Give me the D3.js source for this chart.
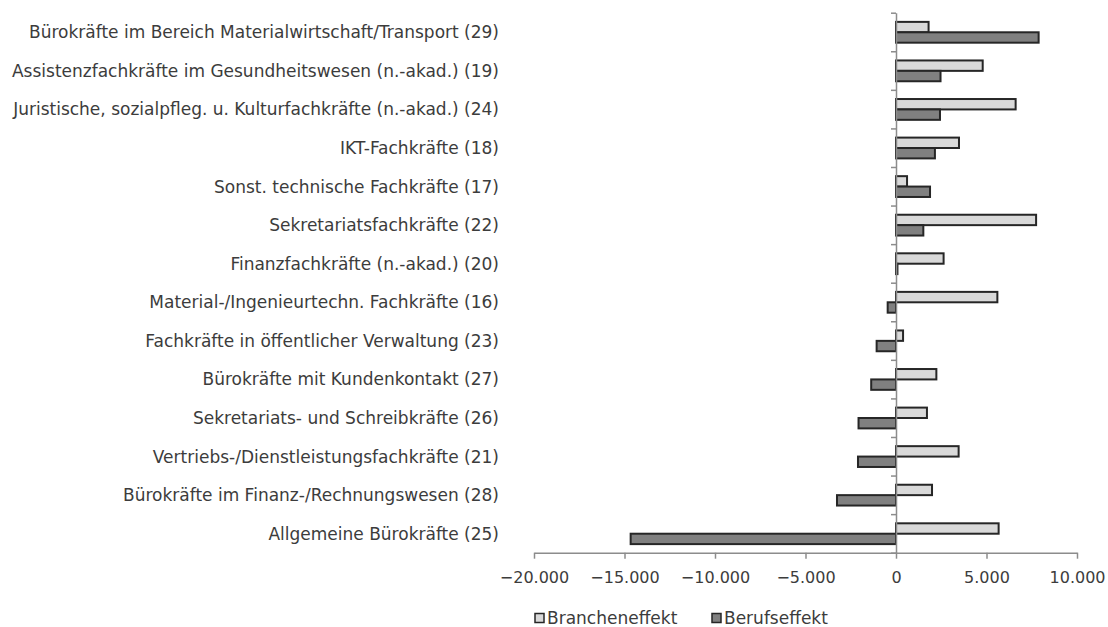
<!DOCTYPE html>
<html>
<head>
<meta charset="utf-8">
<script src="https://cdn.jsdelivr.net/npm/d3@7"></script>
<style>
  html, body { margin: 0; padding: 0; background: #ffffff; }
  svg { display: block; }
  text { font-family: "DejaVu Sans", sans-serif; fill: #3c3c3c; }
</style>
</head>
<body>
<svg id="chart" width="1108" height="627"></svg>
<script>
const categories = [
  "Bürokräfte im Bereich Materialwirtschaft/Transport (29)",
  "Assistenzfachkräfte im Gesundheitswesen (n.-akad.) (19)",
  "Juristische, sozialpfleg. u. Kulturfachkräfte (n.-akad.) (24)",
  "IKT-Fachkräfte (18)",
  "Sonst. technische Fachkräfte (17)",
  "Sekretariatsfachkräfte (22)",
  "Finanzfachkräfte (n.-akad.) (20)",
  "Material-/Ingenieurtechn. Fachkräfte (16)",
  "Fachkräfte in öffentlicher Verwaltung (23)",
  "Bürokräfte mit Kundenkontakt (27)",
  "Sekretariats- und Schreibkräfte (26)",
  "Vertriebs-/Dienstleistungsfachkräfte (21)",
  "Bürokräfte im Finanz-/Rechnungswesen (28)",
  "Allgemeine Bürokräfte (25)"
];
const seriesNames = ["Brancheneffekt", "Berufseffekt"];
const brancheneffekt = [1800, 4790, 6610, 3480, 610, 7740, 2630, 5600, 390, 2230, 1710, 3460, 1990, 5670];
const berufseffekt = [7880, 2460, 2430, 2150, 1880, 1510, 80, -460, -1070, -1370, -2070, -2100, -3260, -14660];
const xTicks = [-20000, -15000, -10000, -5000, 0, 5000, 10000];
const xDomain = [-20000, 10000];

const colors = { "Brancheneffekt": "#d9d9d9", "Berufseffekt": "#808080" };
const barStroke = "#262626";
const axisColor = "#8c8c8c";
const labelFont = 17;
const tickFont = 16;

const svg = d3.select("#chart");

const x = d3.scaleLinear().domain(xDomain).range([534, 1077]);
const y = d3.scaleBand().domain(categories).range([12.7, 552.7]);
const yIdx = d3.scaleLinear().domain([0, categories.length]).range([12.7, 552.7]);

const barH = 10.4;
const data = categories.map((c, i) => ({ c, vals: [brancheneffekt[i], berufseffekt[i]] }));

// Bars
const groups = svg.append("g").selectAll("g").data(data).join("g");
groups.each(function (d) {
  const g = d3.select(this);
  const center = y(d.c) + y.bandwidth() / 2 + 0.3;
  d.vals.forEach((v, k) => {
    g.append("rect")
      .attr("x", Math.min(x(0), x(v)))
      .attr("y", center - barH + k * barH)
      .attr("width", Math.abs(x(v) - x(0)))
      .attr("height", barH)
      .attr("fill", colors[seriesNames[k]])
      .attr("stroke", barStroke)
      .attr("stroke-width", 2);
  });
});

// X axis
const fmt = v => (v < 0 ? "\u2212" : "") + d3.format(",")(Math.abs(v)).replace(/,/g, ".");
const xAxis = svg.append("g")
  .attr("transform", "translate(0,552.7)")
  .call(d3.axisBottom(x).tickValues(xTicks).tickSize(6).tickSizeOuter(0).tickFormat(fmt));
xAxis.select(".domain").attr("stroke", axisColor).attr("stroke-width", 1.5);
xAxis.selectAll(".tick line").attr("stroke", axisColor).attr("stroke-width", 1.5);
xAxis.selectAll(".tick text")
  .attr("y", 30.6).attr("dy", 0)
  .style("font-size", tickFont + "px")
  .style("font-family", "DejaVu Sans, sans-serif")
  .attr("fill", "#3c3c3c");

// Y axis line with ticks at band boundaries
const yAxis = svg.append("g")
  .attr("transform", `translate(${x(0)},0)`)
  .call(d3.axisLeft(yIdx).tickValues(d3.range(0, categories.length + 1)).tickSize(5).tickSizeOuter(0).tickFormat(""));
yAxis.select(".domain").attr("stroke", axisColor).attr("stroke-width", 1.5);
yAxis.selectAll(".tick line").attr("stroke", axisColor).attr("stroke-width", 1.5);

// Category labels
const labels = svg.append("g")
  .attr("transform", "translate(503,0.8)")
  .call(d3.axisLeft(y).tickSize(0).tickPadding(4));
labels.select(".domain").remove();
labels.selectAll(".tick text")
  .style("font-size", labelFont + "px")
  .style("font-family", "DejaVu Sans, sans-serif")
  .attr("fill", "#3c3c3c");

// Legend
const legendItems = [
  { name: seriesNames[0], x: 535 },
  { name: seriesNames[1], x: 712 }
];
const legend = svg.append("g").selectAll("g").data(legendItems).join("g")
  .attr("transform", d => `translate(${d.x},618)`);
legend.append("rect")
  .attr("x", 0).attr("y", -4.5).attr("width", 9).attr("height", 9)
  .attr("fill", d => colors[d.name]).attr("stroke", barStroke).attr("stroke-width", 1.5);
legend.append("text")
  .attr("x", 12).attr("y", 0).attr("dy", "0.35em")
  .style("font-size", labelFont + "px")
  .text(d => d.name);
</script>
</body>
</html>
